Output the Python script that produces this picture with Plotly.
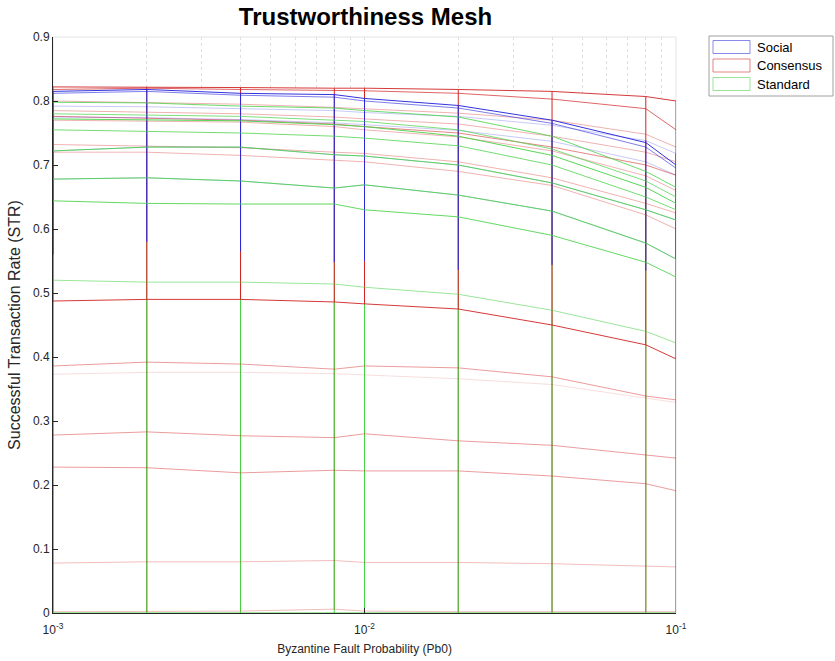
import plotly.graph_objects as go

# Byzantine fault probability grid
pb0 = [0.001, 0.002, 0.004, 0.008, 0.01, 0.02, 0.04, 0.08, 0.1]

# Successful transaction rate, one row per mesh line
social = [
    [0.815, 0.818, 0.812, 0.810, 0.804, 0.793, 0.770, 0.735, 0.700],
    [0.812, 0.815, 0.809, 0.806, 0.800, 0.789, 0.765, 0.728, 0.695],
    [0.792, 0.791, 0.788, 0.785, 0.782, 0.776, 0.762, 0.738, 0.718],
    [0.775, 0.774, 0.771, 0.766, 0.763, 0.754, 0.737, 0.705, 0.684],
    [0.722, 0.728, 0.728, 0.716, 0.714, 0.700, 0.672, 0.630, 0.614],
    [0.678, 0.680, 0.675, 0.664, 0.669, 0.653, 0.628, 0.578, 0.553],
    [0.560, 0.580, 0.565, 0.548, 0.550, 0.536, 0.544, 0.535, 0.600],
]

consensus = [
    [0.822, 0.822, 0.821, 0.820, 0.820, 0.818, 0.815, 0.807, 0.800],
    [0.818, 0.820, 0.818, 0.817, 0.816, 0.812, 0.803, 0.788, 0.755],
    [0.800, 0.797, 0.795, 0.790, 0.788, 0.781, 0.770, 0.748, 0.728],
    [0.785, 0.782, 0.780, 0.775, 0.772, 0.764, 0.745, 0.720, 0.705],
    [0.776, 0.773, 0.770, 0.764, 0.760, 0.750, 0.728, 0.700, 0.684],
    [0.770, 0.768, 0.767, 0.760, 0.755, 0.744, 0.722, 0.683, 0.660],
    [0.732, 0.730, 0.727, 0.720, 0.718, 0.705, 0.680, 0.640, 0.625],
    [0.720, 0.720, 0.715, 0.708, 0.705, 0.690, 0.668, 0.622, 0.600],
    [0.4875, 0.490, 0.490, 0.486, 0.483, 0.475, 0.450, 0.419, 0.397],
    [0.386, 0.392, 0.389, 0.381, 0.386, 0.383, 0.369, 0.339, 0.333],
    [0.373, 0.376, 0.376, 0.374, 0.372, 0.366, 0.357, 0.335, 0.329],
    [0.278, 0.283, 0.277, 0.274, 0.280, 0.269, 0.262, 0.247, 0.242],
    [0.228, 0.227, 0.219, 0.223, 0.222, 0.222, 0.214, 0.202, 0.191],
    [0.078, 0.080, 0.080, 0.082, 0.079, 0.079, 0.077, 0.073, 0.072],
    [0.002, 0.002, 0.003, 0.006, 0.003, 0.002, 0.002, 0.002, 0.002],
]

standard = [
    [0.798, 0.797, 0.792, 0.789, 0.785, 0.775, 0.745, 0.690, 0.665],
    [0.780, 0.778, 0.776, 0.770, 0.768, 0.755, 0.725, 0.675, 0.650],
    [0.772, 0.770, 0.769, 0.763, 0.760, 0.745, 0.715, 0.665, 0.640],
    [0.755, 0.753, 0.750, 0.745, 0.742, 0.730, 0.700, 0.650, 0.630],
    [0.722, 0.728, 0.728, 0.716, 0.714, 0.700, 0.672, 0.630, 0.614],
    [0.678, 0.680, 0.675, 0.664, 0.669, 0.653, 0.628, 0.578, 0.553],
    [0.644, 0.640, 0.639, 0.639, 0.630, 0.619, 0.590, 0.548, 0.525],
    [0.520, 0.517, 0.517, 0.514, 0.509, 0.498, 0.473, 0.440, 0.422],
    [0.000, 0.000, 0.000, 0.000, 0.000, 0.000, 0.000, 0.000, 0.000],
]

series_names = ["Social", "Consensus", "Standard"]

# styling
BLUE = (40, 40, 220)
RED = (210, 35, 35)
GREEN = (70, 210, 70)
social_alpha = [0.95, 0.6, 0.25, 0.25, 0.25, 0.25, 0.0]
consensus_alpha = [0.9, 0.7, 0.35, 0.35, 0.55, 0.35, 0.35, 0.35, 0.9,
                   0.45, 0.15, 0.45, 0.45, 0.3, 0.3]
standard_alpha = [0.8, 0.7, 0.9, 0.75, 0.85, 0.85, 0.85, 0.55, 1.0]

# plot area in pixels (used for legend placement)
L, R, T, B = 53, 676, 37, 613
W, H = 835, 661


def px_x(p):
    return (p - L) / (R - L)


def px_y(p):
    return (B - p) / (B - T)


def rgba(c, a):
    return f"rgba({c[0]},{c[1]},{c[2]},{a})"


def column_edges(rows, color):
    """Mesh edges running across rows at each Pb0 value."""
    xs, ys = [], []
    for j, x in enumerate(pb0):
        col = [r[j] for r in rows]
        xs += [x, x, None]
        ys += [min(col), max(col), None]
    return go.Scatter(x=xs, y=ys, mode="lines", showlegend=False,
                      hoverinfo="skip",
                      line=dict(color=rgba(color, 1), width=1))


def row_lines(rows, color, alphas, width=1.0):
    out = []
    for r, a in zip(rows, alphas):
        if a <= 0:
            continue
        out.append(go.Scatter(x=pb0, y=r, mode="lines", showlegend=False,
                              hoverinfo="skip",
                              line=dict(color=rgba(color, a), width=width)))
    return out


fig = go.Figure()

# white mesh faces hide the back grid under the surfaces
envelope = [max(r[j] for r in social + consensus + standard)
            for j in range(len(pb0))]
fig.add_trace(go.Scatter(x=pb0, y=envelope, mode="lines", fill="tozeroy",
                         fillcolor="white", line=dict(width=0, color="white"),
                         showlegend=False, hoverinfo="skip"))

# column edges (drawn beneath the row lines)
fig.add_trace(column_edges(consensus[8:], RED))
fig.add_trace(column_edges(standard, GREEN))
fig.add_trace(column_edges(consensus[:9], RED))
fig.add_trace(column_edges(social, BLUE))

# row lines
for t in row_lines(consensus, RED, consensus_alpha):
    fig.add_trace(t)
for t in row_lines(social, BLUE, social_alpha):
    fig.add_trace(t)
for t in row_lines(standard, GREEN, standard_alpha):
    fig.add_trace(t)

# plot box
fig.add_shape(type="rect", xref="paper", yref="paper", x0=0, y0=0, x1=1, y1=1,
              line=dict(color="rgb(228,228,228)", width=1), layer="below")

# legend box with outlined patches
fig.add_shape(type="rect", xref="paper", yref="paper",
              x0=px_x(709), x1=px_x(833), y0=px_y(96), y1=px_y(36),
              line=dict(color="rgb(160,160,160)", width=1),
              fillcolor="white", layer="above")
for i, (name, c) in enumerate(zip(series_names, [BLUE, RED, GREEN])):
    cy = 47 + i * 18.5
    fig.add_shape(type="rect", xref="paper", yref="paper",
                  x0=px_x(713), x1=px_x(750),
                  y0=px_y(cy + 6.5), y1=px_y(cy - 6.5),
                  line=dict(color=rgba(c, 0.55), width=1),
                  fillcolor="white", layer="above")
    fig.add_annotation(x=px_x(755), y=px_y(cy), xref="paper", yref="paper",
                       text=name, showarrow=False, xanchor="left",
                       yanchor="middle", font=dict(size=13, color="black"))

fig.update_layout(
    width=W, height=H,
    margin=dict(l=L, r=W - R, t=T, b=H - B, autoexpand=False),
    paper_bgcolor="white", plot_bgcolor="white",
    font=dict(family="Liberation Sans, Arial, sans-serif", color="#262626"),
    title=dict(text="<b>Trustworthiness Mesh</b>", x=365.5 / W,
               xanchor="center", y=1 - 17 / H, yanchor="middle",
               font=dict(size=24, color="black")),
    showlegend=False,
)

fig.update_xaxes(
    type="log", range=[-3, -1],
    tickvals=[1e-3, 1e-2, 1e-1],
    ticktext=["10<sup>-3</sup>", "10<sup>-2</sup>", "10<sup>-1</sup>"],
    ticks="inside", ticklen=5, tickcolor="#262626",
    ticklabelstandoff=6,
    showline=True, linecolor="#262626", linewidth=1,
    showgrid=True, griddash="dot", gridcolor="rgb(222,222,222)", gridwidth=1,
    minor=dict(tickvals=[k * 10 ** e for e in (-3, -2) for k in range(2, 10)],
               showgrid=True, griddash="dot", gridcolor="rgb(222,222,222)",
               ticks=""),
    zeroline=False,
    tickfont=dict(size=12),
    title=dict(text="Byzantine Fault Probability (Pb0)", font=dict(size=12),
               standoff=8),
)

fig.update_yaxes(
    range=[0, 0.9], dtick=0.1, tickformat="~g",
    ticks="inside", ticklen=5, tickcolor="#262626",
    showline=True, linecolor="#262626", linewidth=1,
    showgrid=False, zeroline=False,
    tickfont=dict(size=12),
    title=dict(text="Successful Transaction Rate (STR)", font=dict(size=16),
               standoff=8),
)

fig.write_html("out.html")
